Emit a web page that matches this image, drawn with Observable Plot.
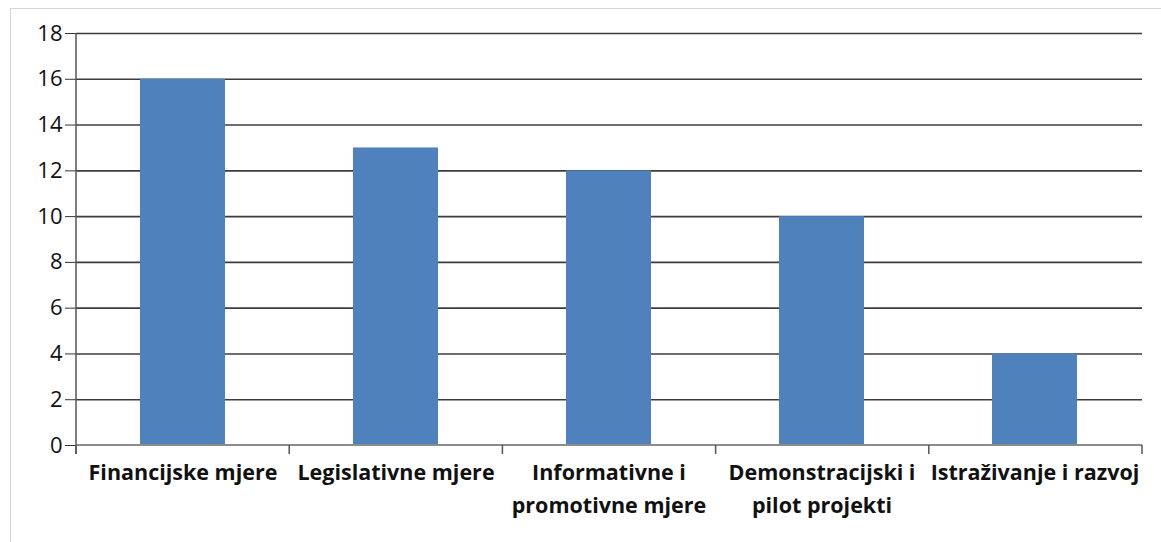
<!DOCTYPE html>
<html>
<head>
<meta charset="utf-8">
<script src="https://cdn.jsdelivr.net/npm/d3@7"></script>
<script src="https://cdn.jsdelivr.net/npm/@observablehq/plot@0.6"></script>
<style>
  html, body { margin: 0; padding: 0; background: #fff; }
  #wrap { position: relative; width: 1161px; height: 542px; overflow: hidden; }
  #frame { position: absolute; left: 10px; top: 8px; width: 1200px; height: 600px;
           border-top: 1.5px solid #d4d4d4; border-left: 1.5px solid #d4d4d4; }
  #chart { position: absolute; left: 0; top: 0; }
</style>
</head>
<body>
<div id="wrap"><div id="frame"></div><div id="chart"></div></div>
<script>
const categories = [
  "Financijske mjere",
  "Legislativne mjere",
  "Informativne i\npromotivne mjere",
  "Demonstracijski i\npilot projekti",
  "Istraživanje i razvoj"
];
const values = [16, 13, 12, 10, 4];
const yTicks = [0, 2, 4, 6, 8, 10, 12, 14, 16, 18];

const data = categories.map((c, i) => ({category: c, value: values[i]}));

const W = 1161, H = 542;
const mL = 76, mR = 19, mT = 33, mB = 97;

const boundaryMark = (index, scales, vals, dims) => {
  const g = d3.create("svg:g");
  const {width, height, marginLeft, marginRight, marginTop, marginBottom} = dims;
  const n = categories.length;
  const step = (width - marginLeft - marginRight) / n;
  const y0 = height - marginBottom;
  g.append("line").attr("x1", marginLeft).attr("x2", width - marginRight)
    .attr("y1", y0).attr("y2", y0).attr("stroke", "#8c8c8c").attr("stroke-width", 2);
  for (let k = 0; k <= n; k++) {
    const x = marginLeft + k * step;
    g.append("line").attr("x1", x).attr("x2", x).attr("y1", y0).attr("y2", y0 + 9)
      .attr("stroke", "#555").attr("stroke-width", 1.5);
  }
  g.append("line").attr("x1", marginLeft).attr("x2", marginLeft)
    .attr("y1", marginTop).attr("y2", y0 + 9).attr("stroke", "#555").attr("stroke-width", 1.5);
  return g.node();
};

const chart = Plot.plot({
  width: W,
  height: H,
  marginLeft: mL,
  marginRight: mR,
  marginTop: mT,
  marginBottom: mB,
  style: {fontFamily: "'Open Sans', sans-serif", background: "transparent"},
  x: {domain: categories, paddingInner: 0.6, paddingOuter: 0.3, label: null},
  y: {domain: [0, 18], label: null},
  marks: [
    Plot.ruleY(yTicks.filter(d => d > 0), {stroke: "#1a1a1a", strokeWidth: 1.6, strokeOpacity: 0.85}),
    Plot.barY(data, {x: "category", y: "value", fill: "#4F81BD"}),
    Plot.axisY({ticks: yTicks, tickSize: 11, tickPadding: 3, fontSize: 22, stroke: "#333", color: "#111", label: null}),
    Plot.axisX({tickSize: 0, tickPadding: 12, fontSize: 21.5, fontWeight: "bold", lineHeight: 1.5, color: "#111", label: null}),
    boundaryMark
  ]
});
document.getElementById("chart").appendChild(chart);
</script>
</body>
</html>
